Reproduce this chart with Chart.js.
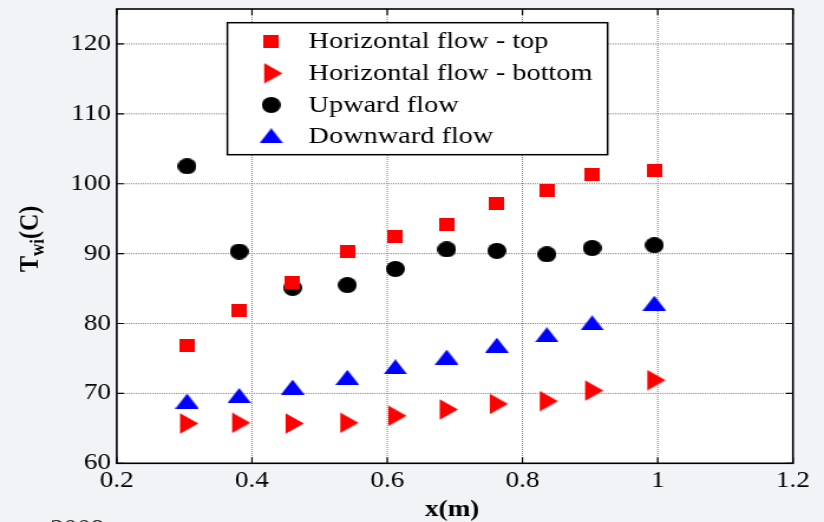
<!DOCTYPE html>
<html><head><meta charset="utf-8">
<script src="https://cdn.jsdelivr.net/npm/chart.js@4/dist/chart.umd.min.js"></script>
<style>
html,body{margin:0;padding:0;background:#f2f3f6;overflow:hidden;}
#wrap{width:824px;height:522px;position:relative;overflow:hidden;}
#c{position:absolute;left:0;top:0;transform:scaleX(1.18052);transform-origin:0 0;}
</style></head><body><div id="wrap"><canvas id="c" width="698" height="522"></canvas></div>
<script>
// ---- data ----
const xPositions      = [0.304, 0.381, 0.460, 0.541, 0.612, 0.688, 0.762, 0.836, 0.903, 0.995];
const horizontalTop    = [76.9, 81.9, 85.9, 90.3, 92.4, 94.1, 97.1, 99.1, 101.3, 101.9];
const horizontalBottom = [65.7, 65.8, 65.7, 65.8, 66.8, 67.7, 68.5, 68.9, 70.4, 71.9];
const upwardFlow       = [102.5, 90.3, 85.1, 85.5, 87.8, 90.6, 90.4, 89.9, 90.8, 91.2];
const downwardFlow     = [68.9, 69.7, 70.9, 72.3, 73.8, 75.2, 76.9, 78.4, 80.1, 82.9];
const seriesLabels = ['Horizontal flow - top', 'Horizontal flow - bottom', 'Upward flow', 'Downward flow'];
const xTicks = [0.2, 0.4, 0.6, 0.8, 1.0, 1.2];
const yTicks = [60, 70, 80, 90, 100, 110, 120];
const xTitle = 'x(m)';
const yTitleMain = 'T', yTitleSub = 'wi', yTitleTail = '(C)';
const footText = '2009';

// ---- marker images ----
function mk(w, h, draw) { const c = document.createElement('canvas'); c.width = w; c.height = h; const g = c.getContext('2d'); draw(g); return c; }
const imgSquare = mk(13, 13, g => { g.fillStyle = '#ff0000'; g.fillRect(0, 0, 13, 13); });
const imgRight = mk(20, 21, g => { g.fillStyle = '#ff0000'; g.beginPath(); g.moveTo(4, 0.3); g.lineTo(19.5, 10.5); g.lineTo(4, 20.7); g.closePath(); g.fill(); });
const imgCircle = mk(16, 16, g => { g.fillStyle = '#000000'; g.beginPath(); g.arc(8, 8, 8, 0, Math.PI * 2); g.fill(); });
const imgUp = mk(20, 15, g => { g.fillStyle = '#0000ff'; g.beginPath(); g.moveTo(10, 0); g.lineTo(20, 15); g.lineTo(0, 15); g.closePath(); g.fill(); });
const images = [imgSquare, imgRight, imgCircle, imgUp];
const seriesValues = [horizontalTop, horizontalBottom, upwardFlow, downwardFlow];

const SERIF = '"Liberation Serif", "Times New Roman", serif';
const BG = '#f2f3f6';

const framePlugin = {
  id: 'frame',
  beforeDraw(chart) {
    const { ctx, chartArea: a } = chart;
    ctx.save();
    ctx.fillStyle = BG; ctx.fillRect(0, 0, chart.width, chart.height);
    ctx.fillStyle = '#ffffff'; ctx.fillRect(a.left, a.top, a.right - a.left, a.bottom - a.top);
    // dotted grid
    const xs = chart.scales.x, ys = chart.scales.y;
    ctx.strokeStyle = '#7a7a7a'; ctx.lineWidth = 1; ctx.setLineDash([1, 1]);
    xTicks.forEach(v => { const p = xs.getPixelForValue(v); if (p > a.left + 1 && p < a.right - 1) { ctx.beginPath(); ctx.moveTo(p, a.top); ctx.lineTo(p, a.bottom); ctx.stroke(); } });
    yTicks.forEach(v => { const p = ys.getPixelForValue(v); if (p > a.top + 1 && p < a.bottom - 1) { ctx.beginPath(); ctx.moveTo(a.left, p); ctx.lineTo(a.right, p); ctx.stroke(); } });
    ctx.restore();
  },
  afterDatasetsDraw(chart) {
    const { ctx, chartArea: a } = chart;
    const xs = chart.scales.x, ys = chart.scales.y;
    ctx.save();
    ctx.setLineDash([]);
    ctx.strokeStyle = '#000'; ctx.lineWidth = 1.6;
    ctx.strokeRect(a.left, a.top, a.right - a.left, a.bottom - a.top);
    ctx.lineWidth = 1.2;
    const tl = 6;
    xTicks.forEach(v => { const p = xs.getPixelForValue(v); ctx.beginPath(); ctx.moveTo(p, a.bottom); ctx.lineTo(p, a.bottom - tl); ctx.moveTo(p, a.top); ctx.lineTo(p, a.top + tl); ctx.stroke(); });
    yTicks.forEach(v => { const p = ys.getPixelForValue(v); ctx.beginPath(); ctx.moveTo(a.left, p); ctx.lineTo(a.left + tl, p); ctx.moveTo(a.right, p); ctx.lineTo(a.right - tl, p); ctx.stroke(); });
    ctx.restore();
  },
  afterDraw(chart) {
    const { ctx } = chart;
    ctx.save();
    // legend
    const bx = 192.6, by = 22.7, bw = 322.1, bh = 132;
    ctx.fillStyle = '#fff'; ctx.fillRect(bx, by, bw, bh);
    ctx.strokeStyle = '#000'; ctx.lineWidth = 1.5; ctx.strokeRect(bx, by, bw, bh);
    const rowsY = [41.7, 73.3, 105, 135.8];
    ctx.font = '24px ' + SERIF; ctx.fillStyle = '#000'; ctx.textBaseline = 'alphabetic'; ctx.textAlign = 'left';
    seriesLabels.forEach((lab, i) => {
      const im = images[i];
      ctx.drawImage(im, 229.7 - im.width / 2, rowsY[i] - im.height / 2);
      ctx.fillText(lab, 261.3, 48.3 + i * 31.7);
    });
    // x title
    ctx.font = 'bold 23px ' + SERIF; ctx.textAlign = 'center';
    ctx.fillText(xTitle, 383, 516);
    // y title (rotated)
    ctx.save();
    ctx.translate(31.6, 272);
    ctx.rotate(-Math.PI / 2);
    ctx.textAlign = 'left';
    ctx.font = 'bold 24px ' + SERIF;
    let u = 0;
    ctx.fillText(yTitleMain, u, 0); u += ctx.measureText(yTitleMain).width;
    ctx.font = 'bold 17px ' + SERIF;
    ctx.fillText(yTitleSub, u, 5); u += ctx.measureText(yTitleSub).width;
    ctx.font = 'bold 24px ' + SERIF;
    ctx.fillText(yTitleTail, u, 0);
    ctx.restore();
    // footer text (cut off)
    ctx.font = '23px ' + SERIF; ctx.fillStyle = '#222'; ctx.textAlign = 'left';
    ctx.fillText(footText, 42.4, 535);
    ctx.restore();
  }
};

const datasets = seriesLabels.map((lab, i) => ({
  label: lab,
  data: xPositions.map((x, k) => ({ x: x, y: seriesValues[i][k] })),
  pointStyle: images[i],
  pointRadius: 8,
  pointHoverRadius: 8,
  showLine: false
}));

const tickFont = { family: SERIF, size: 23, lineHeight: 1 };

new Chart(document.getElementById('c'), {
  type: 'scatter',
  data: { datasets },
  options: {
    responsive: false,
    devicePixelRatio: 1,
    animation: false,
    events: [],
    layout: { padding: { top: 7.5, right: 26.3, left: 0, bottom: 0 } },
    plugins: { legend: { display: false }, tooltip: { enabled: false } },
    scales: {
      x: {
        type: 'linear', min: 0.2, max: 1.2,
        grid: { display: false, drawTicks: false },
        border: { display: false },
        afterBuildTicks: s => { s.ticks = xTicks.map(v => ({ value: v })); },
        afterFit: s => { s.height = 58.7; s.paddingLeft = 0; s.paddingRight = 0; },
        ticks: { color: '#000', font: tickFont, padding: 6, maxRotation: 0, autoSkip: false,
          callback: v => String(+(+v).toFixed(1)) }
      },
      y: {
        type: 'linear', min: 60, max: 125,
        grid: { display: false, drawTicks: false },
        border: { display: false },
        afterBuildTicks: s => { s.ticks = yTicks.map(v => ({ value: v })); },
        afterFit: s => { s.width = 98.9; s.paddingTop = 0; s.paddingBottom = 0; },
        ticks: { color: '#000', font: tickFont, padding: 5, autoSkip: false,
          callback: v => String(v) }
      }
    }
  },
  plugins: [framePlugin]
});
</script>
</body></html>
